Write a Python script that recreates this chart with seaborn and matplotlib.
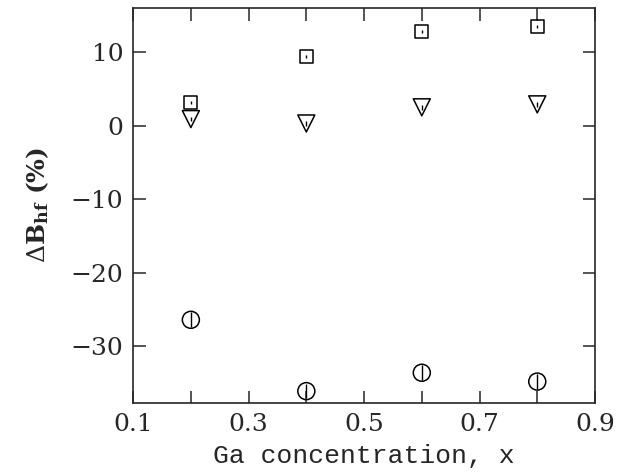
import numpy as np
import pandas as pd
import seaborn as sns
import matplotlib.pyplot as plt
from matplotlib.ticker import MultipleLocator, FixedLocator

# -----------------------------------------------------------------------------
# Data
# -----------------------------------------------------------------------------
ga_x = [0.2, 0.4, 0.6, 0.8]
square_y = [3.2, 9.4, 12.8, 13.5]
square_err = [0.2, 0.2, 0.2, 0.2]
triangle_y = [0.9, 0.3, 2.5, 2.9]
triangle_err = [0.3, 0.3, 0.3, 0.3]
circle_y = [-26.4, -36.1, -33.6, -34.8]
circle_err = [1.0, 1.0, 1.0, 1.0]

df = pd.DataFrame({
    "x": ga_x * 3,
    "y": square_y + triangle_y + circle_y,
    "err": square_err + triangle_err + circle_err,
    "site": ["square"] * 4 + ["triangle"] * 4 + ["circle"] * 4,
})

# -----------------------------------------------------------------------------
# Style
# -----------------------------------------------------------------------------
sns.set_style("ticks")
plt.rcParams["font.family"] = ["DejaVu Serif"]
plt.rcParams["mathtext.fontset"] = "dejavuserif"

fig = plt.figure(figsize=(6.25, 4.74), dpi=100)
ax = fig.add_axes([0.213, 0.150, 0.739, 0.833])

sizes = {"square": 85, "triangle": 150, "circle": 150}
markers = {"square": "s", "triangle": "v", "circle": "o"}
for site, grp in df.groupby("site"):
    ax.errorbar(grp["x"], grp["y"], yerr=grp["err"], fmt="none",
                ecolor="black", elinewidth=1.0, capsize=0, zorder=2)
    sns.scatterplot(data=grp, x="x", y="y", marker=markers[site],
                    s=sizes[site], facecolor="none", edgecolor="black",
                    linewidth=1.1, ax=ax, zorder=3, legend=False)

ax.set_xlim(0.1, 0.9)
ax.set_ylim(-37.7, 16.0)
ax.xaxis.set_major_locator(FixedLocator([0.1, 0.3, 0.5, 0.7, 0.9]))
ax.xaxis.set_minor_locator(FixedLocator([0.2, 0.4, 0.6, 0.8]))
ax.yaxis.set_major_locator(MultipleLocator(10))
ax.set_xticklabels(["0.1", "0.3", "0.5", "0.7", "0.9"])

ax.tick_params(which="both", direction="in", top=True, right=True,
               length=9, width=1.1, labelsize=18, pad=7)
for sp in ax.spines.values():
    sp.set_linewidth(1.2)

ax.set_xlabel("Ga concentration, x", family="Liberation Mono",
              fontsize=19, labelpad=6)
ax.set_ylabel(r"$\Delta\mathbf{B}_{\mathbf{hf}}$ (%)", fontsize=18,
              fontweight="bold", labelpad=14)

fig.savefig("out.png", dpi=100)
plt.close(fig)
